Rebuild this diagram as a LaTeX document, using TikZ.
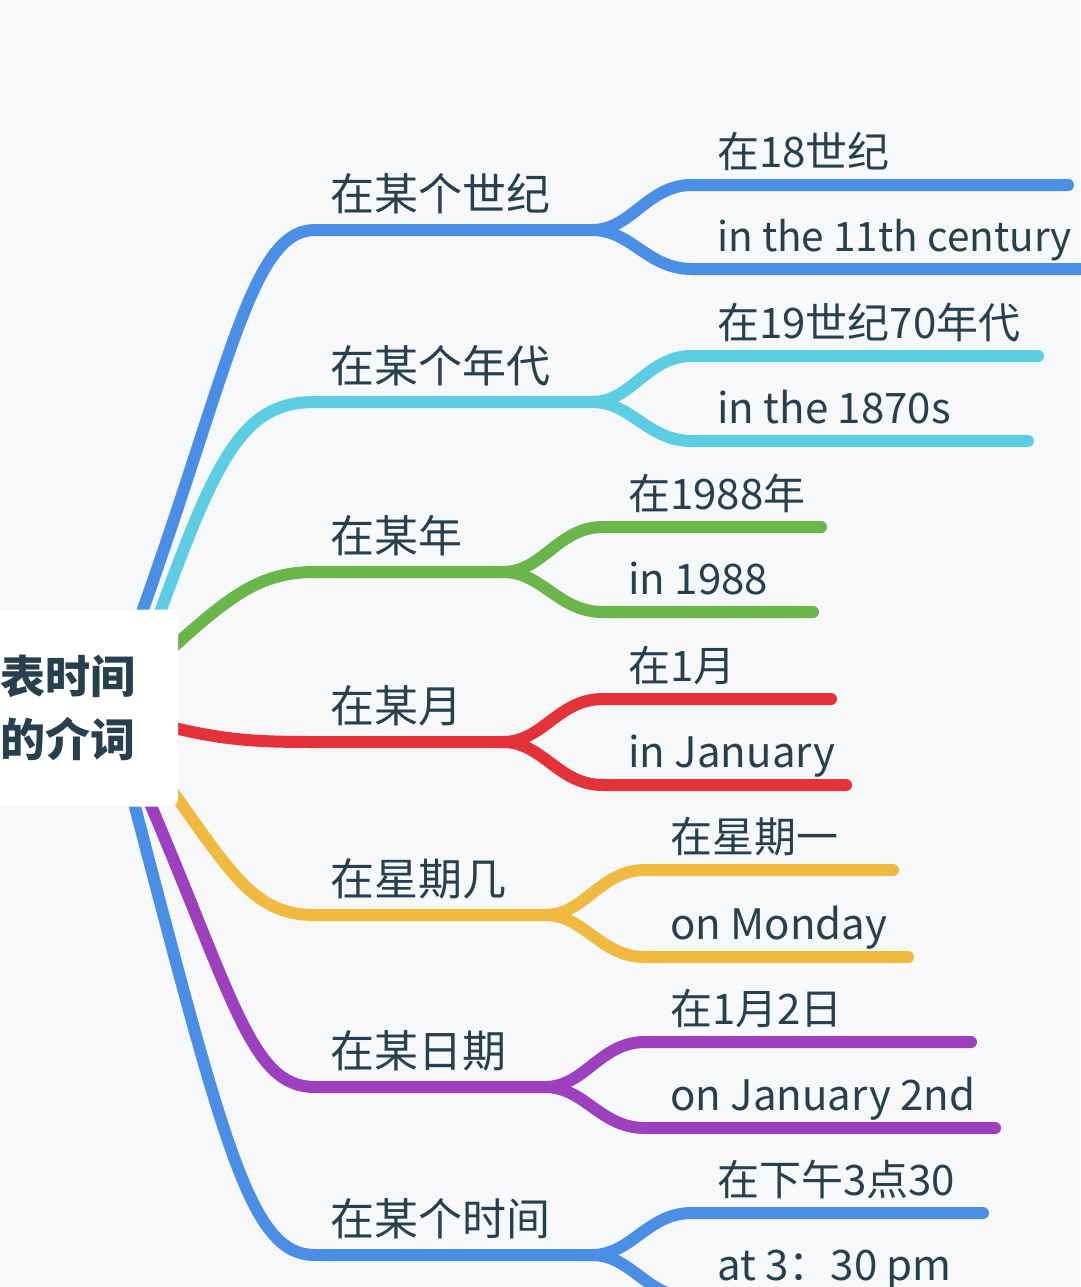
\documentclass[tikz,border=0pt]{standalone}
\usepackage{fontspec}
\setmainfont{Noto Sans CJK SC}
\usetikzlibrary{positioning}
\pgfdeclarelayer{back}
\pgfsetlayers{back,main}
\definecolor{paper}{HTML}{F6F8FA}
\definecolor{ink}{HTML}{27404F}
\definecolor{cblue}{HTML}{4A8EE6}
\definecolor{ccyan}{HTML}{5DCDE4}
\definecolor{cgreen}{HTML}{6BB64B}
\definecolor{cred}{HTML}{E43338}
\definecolor{cyellow}{HTML}{F0BA40}
\definecolor{cpurple}{HTML}{9C40BE}

\begin{document}
\begin{tikzpicture}[x=1pt,y=-1pt,
    topic/.style={anchor=south west,inner xsep=0pt,inner ysep=19pt,text depth=0pt,text=ink,font=\fontsize{44}{50}\selectfont},
    leaf/.style={topic,inner ysep=17pt,font=\fontsize{42}{48}\selectfont},
    branch/.style={line width=12pt,line cap=round},
    root node/.style={fill=white,rounded corners=8pt,minimum width=220pt,minimum height=197pt,align=center,text=ink,font=\fontsize{45}{63}\selectfont\bfseries}]
\useasboundingbox (0,0) rectangle (1080,1287);
\node[root node] (root) at (68,708) {表时间\\的介词};
% first level
\node[topic] (century) at (330,230) {在某个世纪};
\node[topic] (decade) at (330,402) {在某个年代};
\node[topic] (year) at (330,572) {在某年};
\node[topic] (month) at (330,742) {在某月};
\node[topic] (weekday) at (330,915) {在星期几};
\node[topic] (date) at (330,1087) {在某日期};
\node[topic] (clock) at (330,1255) {在某个时间};
% second level
\node[leaf] (centuryA) at (717,185) {在18世纪};
\node[leaf,font=\fontsize{40.5}{48}\selectfont] (centuryB) at (717,269) {in the 11th century};
\node[leaf] (decadeA) at (717,356) {在19世纪70年代};
\node[leaf] (decadeB) at (717,441) {in the 1870s};
\node[leaf] (yearA) at (628,527) {在1988年};
\node[leaf] (yearB) at (628,612) {in 1988};
\node[leaf] (monthA) at (628,699) {在1月};
\node[leaf] (monthB) at (628,785) {in January};
\node[leaf] (weekdayA) at (670,870) {在星期一};
\node[leaf] (weekdayB) at (670,957) {on Monday};
\node[leaf] (dateA) at (670,1042) {在1月2日};
\node[leaf] (dateB) at (670,1128) {on January 2nd};
\node[leaf] (clockA) at (717,1213) {在下午3点30};
\node[leaf] (clockB) at (717,1298) {at 3：30 pm};
% forks and line ends
\coordinate (centuryF) at (592,230);
\coordinate (decadeF) at (592,402);
\coordinate (yearF) at (503,572);
\coordinate (monthF) at (503,742);
\coordinate (weekdayF) at (545,915);
\coordinate (dateF) at (545,1087);
\coordinate (clockF) at (592,1255);
\coordinate (centuryAe) at (1068,185);
\coordinate (centuryBe) at (1100,269);
\coordinate (decadeAe) at (1038,356);
\coordinate (decadeBe) at (1028,441);
\coordinate (yearAe) at (821,527);
\coordinate (yearBe) at (813,612);
\coordinate (monthAe) at (831,699);
\coordinate (monthBe) at (846,785);
\coordinate (weekdayAe) at (893,870);
\coordinate (weekdayBe) at (908,957);
\coordinate (dateAe) at (971,1042);
\coordinate (dateBe) at (995,1128);
\coordinate (clockAe) at (983,1213);
\coordinate (clockBe) at (1000,1298);
\begin{pgfonlayer}{back}
\fill[paper] (0,0) rectangle (1080,1287);
\draw[branch,cblue] ([xshift=64pt,yshift=68pt]root.center) .. controls (230,370) and (250,230) .. ([xshift=-15pt]century.south west) -- (centuryF);
\draw[branch,ccyan] ([xshift=82pt,yshift=68pt]root.center) .. controls (215,460) and (240,402) .. ([xshift=-15pt]decade.south west) -- (decadeF);
\draw[branch,cgreen] ([xshift=82pt,yshift=40pt]root.center) .. controls (225,600) and (255,572) .. ([xshift=-15pt]year.south west) -- (yearF);
\draw[branch,cred] ([xshift=82pt,yshift=-14pt]root.center) .. controls (220,740) and (250,742) .. ([xshift=-15pt]month.south west) -- (monthF);
\draw[branch,cyellow] ([xshift=82pt,yshift=-52pt]root.center) .. controls (230,870) and (250,915) .. ([xshift=-15pt]weekday.south west) -- (weekdayF);
\draw[branch,cpurple] ([xshift=72pt,yshift=-72pt]root.center) .. controls (235,1000) and (250,1087) .. ([xshift=-15pt]date.south west) -- (dateF);
\draw[branch,cblue] ([xshift=60pt,yshift=-72pt]root.center) .. controls (225,1150) and (250,1255) .. ([xshift=-15pt]clock.south west) -- (clockF);
\foreach \t/\c in {century/cblue,decade/ccyan,year/cgreen,month/cred,weekday/cyellow,date/cpurple,clock/cblue}{
  \draw[branch,\c] (\t F) .. controls +(40,0) and +(-45,0) .. ([xshift=-25pt]\t A.south west) -- (\t Ae);
  \draw[branch,\c] (\t F) .. controls +(40,0) and +(-45,0) .. ([xshift=-25pt]\t B.south west) -- (\t Be);
}
\end{pgfonlayer}
\end{tikzpicture}
\end{document}
